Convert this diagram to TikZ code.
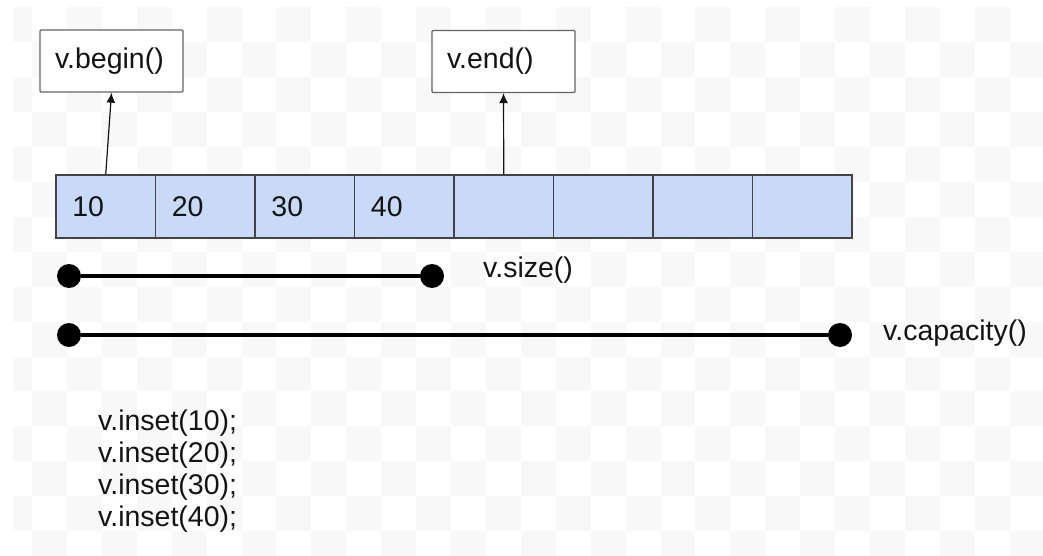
\documentclass[tikz,border=0pt]{standalone}
\usepackage{fontspec}
\setmainfont{Liberation Sans}
\usetikzlibrary{arrows.meta}

\definecolor{cellblue}{RGB}{201,218,248}
\definecolor{edgegray}{RGB}{67,67,67}
\definecolor{boxgray}{RGB}{100,100,100}
\definecolor{checker}{RGB}{248,248,248}
\definecolor{ink}{RGB}{20,20,20}

\tikzset{
    txt/.style={font=\fontsize{28.5}{32}\selectfont, text=ink, inner sep=0pt},
    callbox/.style={txt, draw=boxgray, line width=1.3pt, rounded corners=1pt, fill=white,
        text width=113pt, align=left, inner xsep=15pt, minimum height=62pt},
    cellbox/.style={draw=edgegray, line width=1.6pt, fill=cellblue,
        minimum width=99.5pt, minimum height=63pt, inner sep=0pt},
    dot/.style={circle, fill=black, minimum size=24pt, inner sep=0pt},
    span/.style={line width=4pt},
    ptr/.style={line width=1.2pt, draw=ink, -{Latex[length=10pt,width=9pt]}}
}

\begin{document}
\begin{tikzpicture}[x=1pt,y=-1pt]
    \useasboundingbox (0,0) rectangle (1043,556);
    % checker background
    \begin{scope}
        \clip (13,7) rectangle (1043,556);
        \foreach \i in {-1,0,...,29}{
            \foreach \j in {0,1,...,15}{
                \pgfmathtruncatemacro{\odd}{mod(\i+\j+2,2)}
                \ifnum\odd=1
                    \fill[checker] (32+34.92*\i,7+34.95*\j) rectangle ++(34.92,34.95);
                \fi
            }
        };
    \end{scope}

    % the vector
    \foreach \k in {1,...,8}{
        \node[cellbox] (c\k) at (56+99.5*\k-49.75,206.5) {};
    };
    \foreach \k/\v in {1/10,2/20,3/30,4/40}{
        \node[txt, anchor=west] (n\k) at ([xshift=17pt]c\k.west) {\v};
    };

    \node[callbox] (begin) at (111.5,61) {v.begin()};
    \node[callbox] (end) at (503.5,61.5) {v.end()};
    \draw[ptr] (c1.north) -- (begin.south);
    \draw[ptr] (c5.north) -- (end.south);

    % size and capacity
    \node[dot] (s1) at (69,276) {};
    \node[dot] (s2) at (432,276) {};
    \draw[span] (s1) -- (s2);
    \node[txt, anchor=west] (size) at (483,270) {v.size()};

    \node[dot] (k1) at (69,335) {};
    \node[dot] (k2) at (840,335) {};
    \draw[span] (k1) -- (k2);
    \node[txt, anchor=west] (cap) at (883,333) {v.capacity()};

    \node[txt, anchor=west, align=left] (code) at (98,471) {v.inset(10);\\v.inset(20);\\v.inset(30);\\v.inset(40);};
\end{tikzpicture}
\end{document}
